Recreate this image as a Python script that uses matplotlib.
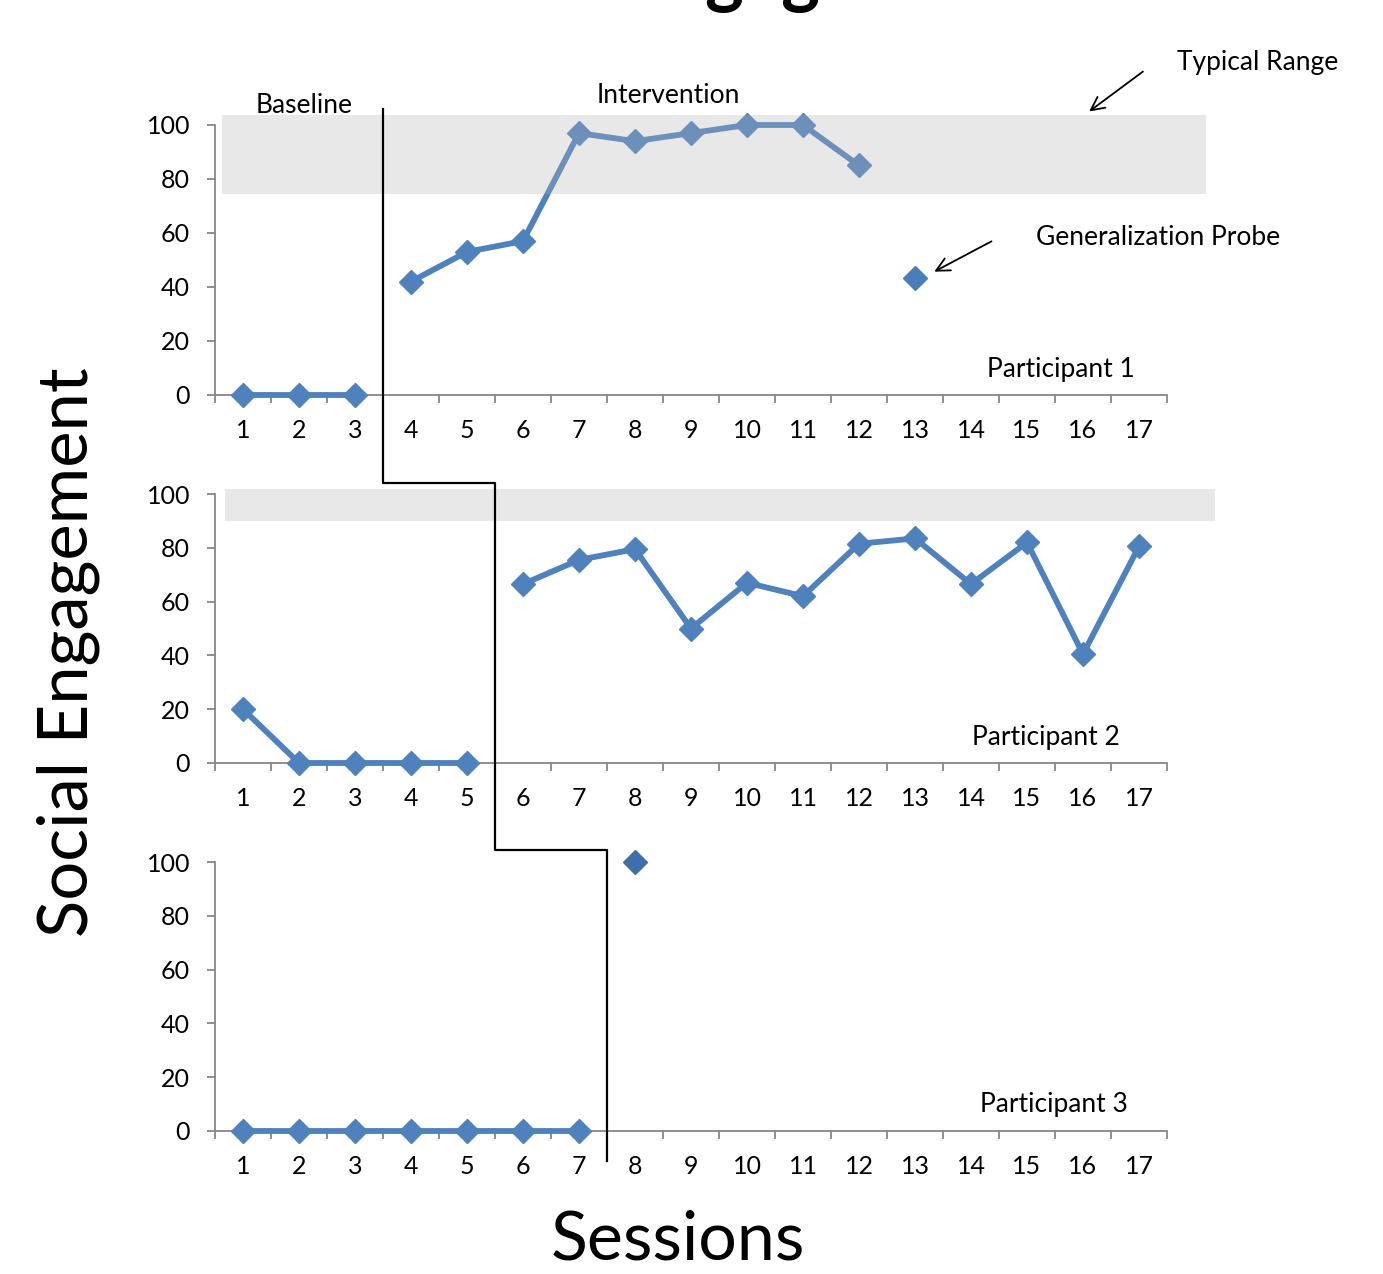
import matplotlib
matplotlib.use('Agg')
import matplotlib.pyplot as plt
from matplotlib.lines import Line2D
from matplotlib.patches import Rectangle
import numpy as np

plt.rcParams['font.family'] = ['Lato', 'DejaVu Sans']

# Data
sessions = np.arange(1, 18)

p1_base_x = [1, 2, 3]
p1_base_y = [0, 0, 0]
p1_int_x = [4, 5, 6, 7, 8, 9, 10, 11, 12]
p1_int_y = [42, 53, 57, 97, 94, 97, 100, 100, 85]
p1_probe_x = [13]
p1_probe_y = [43.5]

p2_base_x = [1, 2, 3, 4, 5]
p2_base_y = [20, 0, 0, 0, 0]
p2_int_x = [6, 7, 8, 9, 10, 11, 12, 13, 14, 15, 16, 17]
p2_int_y = [66.5, 75.5, 79.5, 50, 67, 62, 81.5, 83.5, 66.5, 82, 40.5, 80.5]

p3_base_x = [1, 2, 3, 4, 5, 6, 7]
p3_base_y = [0, 0, 0, 0, 0, 0, 0]
p3_int_x = [8]
p3_int_y = [100]

phase_change = [3.5, 5.5, 7.5]
typical_range = [(74.4, 103.8, 0.62, 18.2), (90, 102, 0.68, 18.35)]

blue = '#4F81BD'
axis_gray = '#868686'

fig = plt.figure(figsize=(13.83, 12.74), dpi=100)
W, H = 1383, 1274
left, right = 215 / W, 1167 / W
bottoms = [395, 763, 1131]
tops = [125, 494, 862]
axes = []
for b, t in zip(bottoms, tops):
    ax = fig.add_axes([left, 1 - b / H, right - left, (b - t) / H])
    axes.append(ax)

for ax in axes:
    ax.set_xlim(0.5, 17.5)
    ax.set_ylim(0, 100)
    ax.spines['top'].set_visible(False)
    ax.spines['right'].set_visible(False)
    for s in ['left', 'bottom']:
        ax.spines[s].set_color(axis_gray)
        ax.spines[s].set_linewidth(1.3)
    ax.set_yticks([0, 20, 40, 60, 80, 100])
    ax.set_xticks(sessions)
    ax.set_xticks(np.arange(0.5, 18, 1), minor=True)
    ax.tick_params(axis='x', which='major', length=0, pad=17, labelsize=18)
    ax.tick_params(axis='x', which='minor', length=6, width=1.3, color=axis_gray, direction='out')
    ax.tick_params(axis='y', length=6, width=1.3, color=axis_gray, direction='out', labelsize=18, pad=12)

line_kw = dict(color=blue, lw=4.2, marker='D', markersize=12, zorder=3, clip_on=False)

ax1, ax2, ax3 = axes
ax1.plot(p1_base_x, p1_base_y, **line_kw)
ax1.plot(p1_int_x, p1_int_y, **line_kw)
ax1.plot(p1_probe_x, p1_probe_y, ls='none', marker='D', markersize=12, color='#4A7EBB', zorder=3)

ax2.plot(p2_base_x, p2_base_y, **line_kw)
ax2.plot(p2_int_x, p2_int_y, **line_kw)

ax3.plot(p3_base_x, p3_base_y, **line_kw)
ax3.plot(p3_int_x, p3_int_y, ls='none', marker='D', markersize=12, color='#3F6FAA', zorder=3, clip_on=False)

# typical range bands, drawn over the data so the line shows through lighter
for ax, (lo, hi, x0, x1) in zip([ax1, ax2], typical_range):
    ax.add_patch(Rectangle((x0, lo), x1 - x0, hi - lo, facecolor='#B4B4B4', alpha=0.3,
                           edgecolor='none', zorder=4, clip_on=False))

# phase change staircase line
pts = [(ax1, phase_change[0], 106), (ax2, phase_change[0], 104), (ax2, phase_change[1], 104),
       (ax3, phase_change[1], 104.5), (ax3, phase_change[2], 104.5), (ax3, phase_change[2], -11)]
xy = [fig.transFigure.inverted().transform(a.transData.transform((x, y))) for a, x, y in pts]
fig.add_artist(Line2D([p[0] for p in xy], [p[1] for p in xy], color='black', lw=1.6,
                      transform=fig.transFigure, zorder=5))

# labels
fs = 19
ax1.text(2.1, 107.4, 'Baseline', ha='center', va='center', fontsize=fs)
ax1.text(8.6, 111, 'Intervention', ha='center', va='center', fontsize=fs)
ax1.text(15.6, 9.3, 'Participant 1', ha='center', va='center', fontsize=fs)
ax2.text(15.34, 9.3, 'Participant 2', ha='center', va='center', fontsize=fs)
ax3.text(15.48, 9.7, 'Participant 3', ha='center', va='center', fontsize=fs)

ax1.annotate('', xy=(16.07, 104.4), xytext=(17.11, 120.4), annotation_clip=False,
             arrowprops=dict(arrowstyle='->', lw=1.3, color='black', mutation_scale=24))
ax1.text(19.12, 123.3, 'Typical Range', ha='center', va='center', fontsize=fs)
ax1.annotate('', xy=(13.3, 45.2), xytext=(14.41, 57.4), annotation_clip=False,
             arrowprops=dict(arrowstyle='->', lw=1.3, color='black', mutation_scale=24))
ax1.text(17.34, 58.5, 'Generalization Probe', ha='center', va='center', fontsize=fs)

fig.text(68 / W, 1 - 652 / H, 'Social Engagement', rotation=90, ha='center', va='center', fontsize=49.5)
fig.text(678 / W, 1 - 1240 / H, 'Sessions', ha='center', va='center', fontsize=49)
fig.text(720 / W, 1 + 2 / H, 'Social Engagement', ha='center', va='baseline', fontsize=53, fontweight='bold')

fig.savefig('out.png', dpi=100)
